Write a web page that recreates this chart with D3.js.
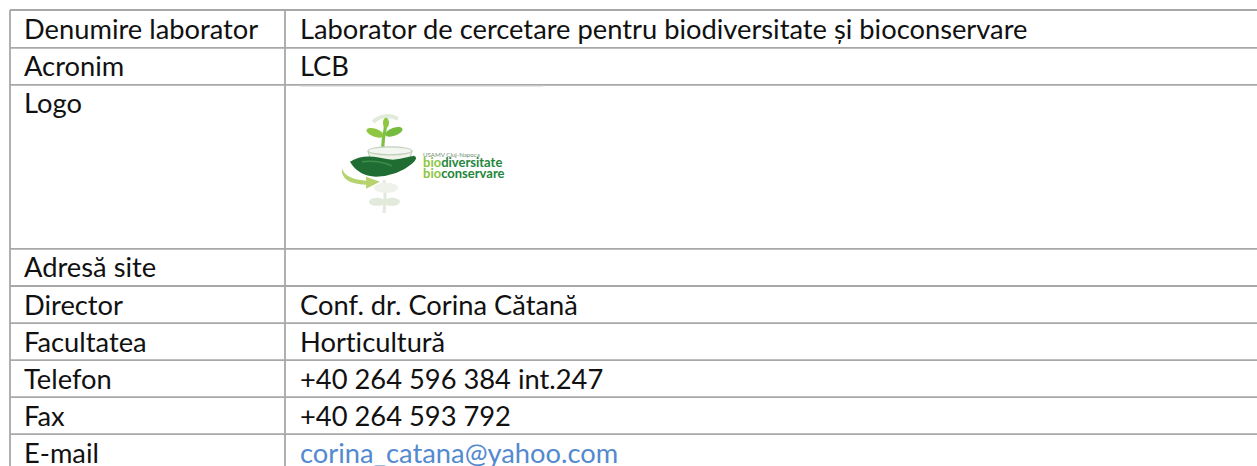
<!DOCTYPE html>
<html><head><meta charset="utf-8">
<script src="https://cdn.jsdelivr.net/npm/d3@7"></script>
<style>html,body{margin:0;padding:0;background:#fff;overflow:hidden} text{font-variant-ligatures:none;font-feature-settings:"liga" 0,"clig" 0}</style>
</head><body>
<svg id="c" width="1257" height="466"></svg>
<script>
// ---- data ----
const labels = ["Denumire laborator","Acronim","Logo","Adresă site","Director","Facultatea","Telefon","Fax","E-mail"];
const values = ["Laborator de cercetare pentru biodiversitate și bioconservare","LCB","","","Conf. dr. Corina Cătană","Horticultură","+40 264 596 384 int.247","+40 264 593 792","corina_catana@yahoo.com"];
const rowUnits = [1.02,1,4.43,1,1,1,1,1,1];
const logoLines = ["USAMV Cluj-Napoca","biodiversitate","bioconservare"];

(function(){
// ---- layout ----
const svg = d3.select("#c");
const W = 1257, H = 466;
const x0 = 10, y0 = 10, colX = 285, rowH = 37.05;
const FONT = "Lato, 'Liberation Sans', sans-serif";
const cum = [0]; rowUnits.forEach((u,i)=>cum.push(cum[i]+u));
const y = d3.scaleLinear().domain([0, 1]).range([y0, y0 + rowH]);
const col = d3.scaleOrdinal().domain(["label","value"]).range([x0, colX]);

// fit font size to the long title width
const probe = svg.append("text").attr("font-family",FONT).attr("font-size",100).text(values[0]);
const fs = 100 * 728 / probe.node().getComputedTextLength();
probe.remove();

const g = svg.append("g");
g.selectAll("line.h").data(cum).join("line").attr("class","h")
  .attr("x1", x0).attr("x2", W + 10)
  .attr("y1", d=>y(d)).attr("y2", d=>y(d))
  .attr("stroke","#a8a8a8").attr("stroke-width",1.8);
g.selectAll("line.v").data(["label","value"]).join("line").attr("class","v")
  .attr("x1", d=>col(d)).attr("x2", d=>col(d))
  .attr("y1", y(0)).attr("y2", H + 10)
  .attr("stroke","#a8a8a8").attr("stroke-width",1.8);

g.selectAll("text.lab").data(labels).join("text").attr("class","lab")
  .attr("x", col("label") + 14).attr("y", (d,i)=>y(cum[i]) + 28.5)
  .attr("font-family",FONT).attr("font-size",fs).attr("fill","#111")
  .text(d=>d);
g.selectAll("text.val").data(values).join("text").attr("class","val")
  .attr("x", col("value") + 15).attr("y", (d,i)=>y(cum[i]) + 28.5)
  .attr("font-family",FONT).attr("font-size",fs)
  .attr("fill",(d,i)=>labels[i]==="E-mail" ? "#5389cf" : "#111")
  .text(d=>d);

// ---- logo ----
const li = labels.indexOf("Logo");
const lg = svg.append("g").attr("transform",`translate(${colX+55},${y(cum[li])+25})`);
svg.append("line").attr("x1",colX+15).attr("x2",colX+258).attr("y1",y(cum[li])+1.5).attr("y2",y(cum[li])+1.5)
  .attr("stroke","#e4e4e4").attr("stroke-width",1.2);
const fade = "#e2eadb";
lg.append("path").attr("d","M33,12 Q45,2 58,9").attr("fill","none").attr("stroke",fade).attr("stroke-width",4);
lg.append("path").attr("d","M44,70 Q46,85 44,103").attr("fill","none").attr("stroke",fade).attr("stroke-width",3);
lg.append("ellipse").attr("cx",37).attr("cy",92).attr("rx",8).attr("ry",4).attr("fill",fade);
lg.append("ellipse").attr("cx",52).attr("cy",92).attr("rx",8).attr("ry",4).attr("fill",fade);
lg.append("ellipse").attr("cx",46).attr("cy",78).attr("rx",12).attr("ry",5).attr("fill","#eef2ea");
lg.append("path").attr("d","M44,54 Q41,38 45,20 Q46,15 45,11").attr("fill","none").attr("stroke","#7dc143").attr("stroke-width",3.2);
lg.append("ellipse").attr("cx",35).attr("cy",23).attr("rx",9).attr("ry",4).attr("transform","rotate(20,35,23)").attr("fill","#8ec640");
lg.append("ellipse").attr("cx",54).attr("cy",22).attr("rx",9).attr("ry",4).attr("transform","rotate(-20,54,22)").attr("fill","#74bb3e");
lg.append("ellipse").attr("cx",46).attr("cy",13).attr("rx",3).attr("ry",5).attr("fill","#8ec640");
lg.append("path").attr("d","M28,41 Q30,55 50,55 Q70,55 72,41").attr("fill","#eef3ea").attr("stroke","#bfcfba").attr("stroke-width",1.2);
lg.append("ellipse").attr("cx",50).attr("cy",41).attr("rx",22).attr("ry",4).attr("fill","#f4f7f1").attr("stroke","#bfcfba").attr("stroke-width",1.2);
lg.append("path").attr("d","M10,52 Q22,44 40,48 Q52,51 60,49 L74,46 Q79,48 72,54 Q58,66 36,67 Q18,66 10,52 Z").attr("fill","#1f6d33");
lg.append("path").attr("d","M22,52 Q38,50 52,56").attr("fill","none").attr("stroke","#3f8f4b").attr("stroke-width",1.5);
lg.append("path").attr("d","M2,58 Q4,69 26,71 L26,67 L40,72 L26,79 L26,75 Q0,74 2,58 Z").attr("fill","#b6d36f");
const tx = 83;
lg.append("text").attr("x",tx).attr("y",47).attr("font-family",FONT).attr("font-size",6.2).attr("fill","#6f8f73").text(logoLines[0]);
[logoLines[1], logoLines[2]].forEach((s,i)=>{
  const t = lg.append("text").attr("x",tx).attr("y",57.5+i*10.5).attr("font-family",FONT).attr("font-weight","bold").attr("font-size",13);
  t.append("tspan").attr("fill","#8dc63f").text(s.slice(0,3));
  t.append("tspan").attr("fill","#24863a").text(s.slice(3));
});
})();
</script>
</body></html>
